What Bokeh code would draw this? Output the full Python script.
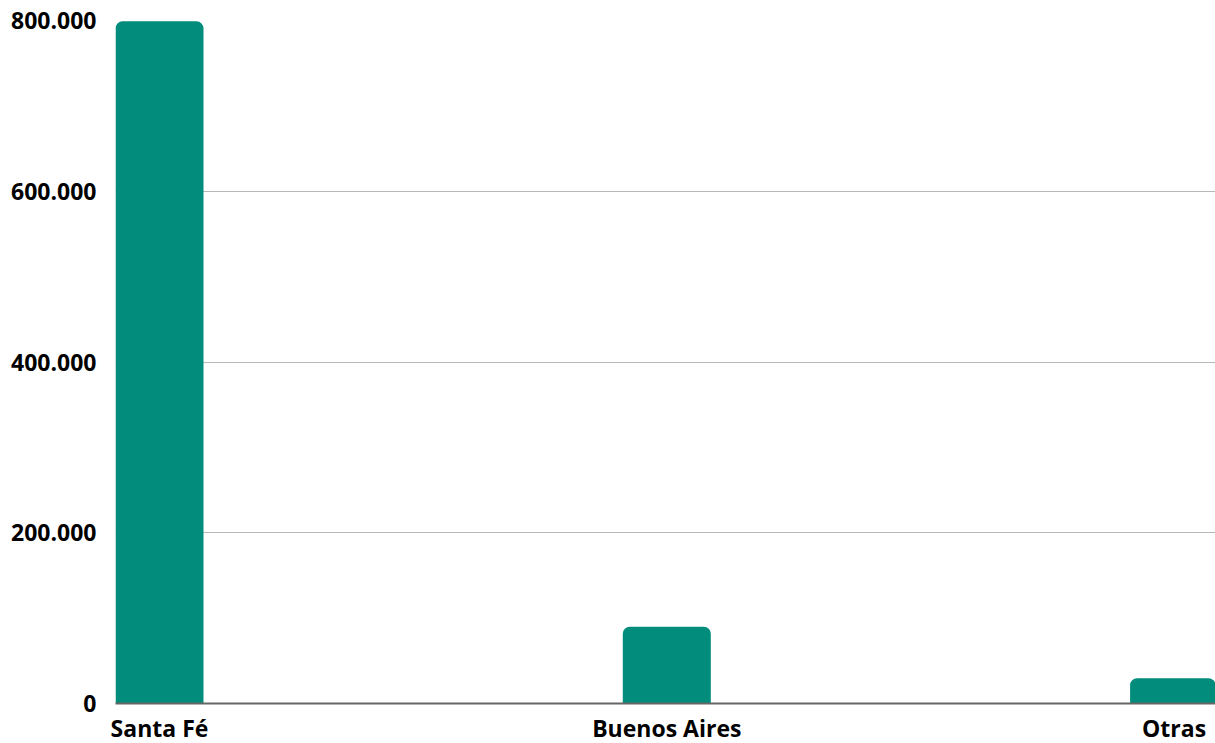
from bokeh.plotting import figure
from bokeh.models import ColumnDataSource, FixedTicker, Range1d
from bokeh.embed import file_html
from bokeh.resources import INLINE

categories = ["Santa Fé", "Buenos Aires", "Otras"]
values = [799000, 90000, 29600]
y_ticks = [0, 200000, 400000, 600000, 800000]
y_tick_labels = ["0", "200.000", "400.000", "600.000", "800.000"]

xpos = list(range(len(categories)))
src = ColumnDataSource(dict(x=xpos, top=values, cat=categories))

p = figure(frame_width=1100, frame_height=683, output_backend="svg", toolbar_location=None,
           x_range=Range1d(-0.0867, 2.0816), y_range=Range1d(0, 800000),
           min_border_left=115, min_border_right=0, min_border_top=20, min_border_bottom=36)
p.outline_line_color = None
p.background_fill_color = "white"
p.border_fill_color = "white"

p.vbar(x="x", top="top", bottom=0, width=0.1735, source=src,
       fill_color="#028c7b", line_color=None, border_radius=(7, 7, 0, 0))

font = "Open Sans"
fsize = "23px"
# y axis
p.yaxis.ticker = FixedTicker(ticks=y_ticks)
p.yaxis.major_label_overrides = {t: l for t, l in zip(y_ticks, y_tick_labels)}
p.yaxis.axis_line_color = None
p.yaxis.major_tick_line_color = None
p.yaxis.minor_tick_line_color = None
p.yaxis.major_label_standoff = 13
p.yaxis.major_label_text_font = font
p.yaxis.major_label_text_font_style = "bold"
p.yaxis.major_label_text_font_size = fsize
p.yaxis.major_label_text_color = "#000000"

# x axis
p.xaxis.ticker = FixedTicker(ticks=xpos)
p.xaxis.major_label_overrides = {i: c for i, c in zip(xpos, categories)}
p.xaxis.axis_line_color = "#666666"
p.xaxis.axis_line_width = 2
p.xaxis.major_tick_line_color = None
p.xaxis.minor_tick_line_color = None
p.xaxis.major_tick_out = 0
p.xaxis.major_label_standoff = 8
p.xaxis.major_label_text_font = font
p.xaxis.major_label_text_font_style = "bold"
p.xaxis.major_label_text_font_size = fsize
p.xaxis.major_label_text_color = "#000000"

p.xgrid.grid_line_color = None
p.ygrid.ticker = FixedTicker(ticks=y_ticks)
p.ygrid.grid_line_color = "#b8b8b8"
p.ygrid.grid_line_width = 1

open("out.html", "w").write(file_html(p, INLINE))
